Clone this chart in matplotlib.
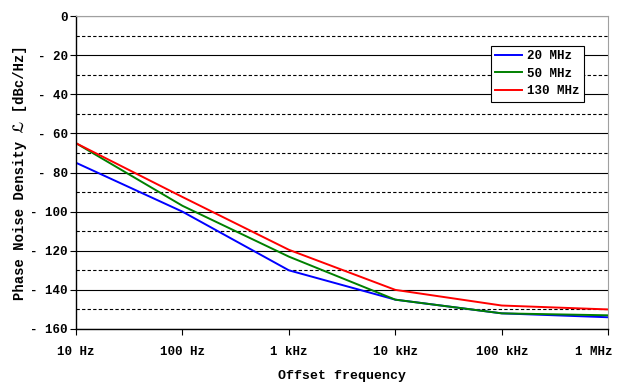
import matplotlib
matplotlib.use("Agg")
import matplotlib.pyplot as plt
from matplotlib.ticker import FixedLocator
from matplotlib.transforms import ScaledTranslation

# offset frequencies (Hz) and phase noise (dBc/Hz)
freqs = [10, 100, 1e3, 1e4, 1e5, 1e6]
freq_labels = ["10 Hz", "100 Hz", "1 kHz", "10 kHz", "100 kHz", "1 MHz"]
pn_20 = [-75, -100, -130, -145, -152, -154]
pn_50 = [-65, -97, -123, -145, -152, -153]
pn_130 = [-65, -92.5, -119.5, -140, -148, -150]
series_names = ["20 MHz", "50 MHz", "130 MHz"]
y_ticks = list(range(0, -161, -20))

plt.rcParams["font.family"] = ["Liberation Mono", "DejaVu Sans"]
plt.rcParams["font.weight"] = "bold"

fig = plt.figure(figsize=(6.21, 3.83), dpi=100)
ax = fig.add_axes([0.1224, 0.141, 0.857, 0.817])

ax.plot(freqs, pn_20, color="#0000ff", lw=1.4, label=series_names[0])
ax.plot(freqs, pn_50, color="#008000", lw=1.4, label=series_names[1])
ax.plot(freqs, pn_130, color="#ff0000", lw=1.4, label=series_names[2])

ax.set_xscale("log")
ax.set_xlim(10, 1e6)
ax.set_ylim(-160, 0)

ax.set_xticks(freqs)
ax.set_xticklabels(freq_labels, fontsize=9, fontweight="bold")
ax.xaxis.set_minor_locator(FixedLocator([]))
ax.set_yticks(y_ticks)
ax.set_yticklabels([str(v) if v == 0 else "- %d" % -v for v in y_ticks],
                   fontsize=9, fontweight="bold")
ax.tick_params(axis="x", direction="out", length=4, pad=8)
ax.tick_params(axis="y", direction="out", length=4, pad=2)

# last x label sits left of its tick so it stays inside the figure
last = ax.get_xticklabels()[-1]
last.set_horizontalalignment("right")
last.set_transform(last.get_transform() + ScaledTranslation(4 / 100, 0, fig.dpi_scale_trans))

# solid major grid every 20, dashed every 10
for v in range(0, -161, -20):
    ax.axhline(v, color="black", lw=0.8, zorder=0)
for v in range(-10, -161, -20):
    ax.axhline(v, color="black", lw=0.8, ls=(0, (3, 2)), zorder=0)

for s in ["top", "right"]:
    ax.spines[s].set_color("#a0a0a0")
for s in ["left", "bottom"]:
    ax.spines[s].set_linewidth(1.0)

ax.set_xlabel("Offset frequency", fontsize=9.5, fontweight="bold", labelpad=9)
ax.set_ylabel("Phase Noise Density \u2112 [dBc/Hz]", fontsize=10, fontweight="bold", labelpad=2)

leg = ax.legend(loc="upper right", bbox_to_anchor=(0.955, 0.905), fontsize=9,
                frameon=True, fancybox=False, edgecolor="black", framealpha=1,
                handlelength=2.2, handletextpad=0.4, borderpad=0.35, labelspacing=0.45,
                borderaxespad=0)
leg.get_frame().set_linewidth(0.8)
for t in leg.get_texts():
    t.set_fontweight("bold")

fig.savefig("out.png", dpi=100)
